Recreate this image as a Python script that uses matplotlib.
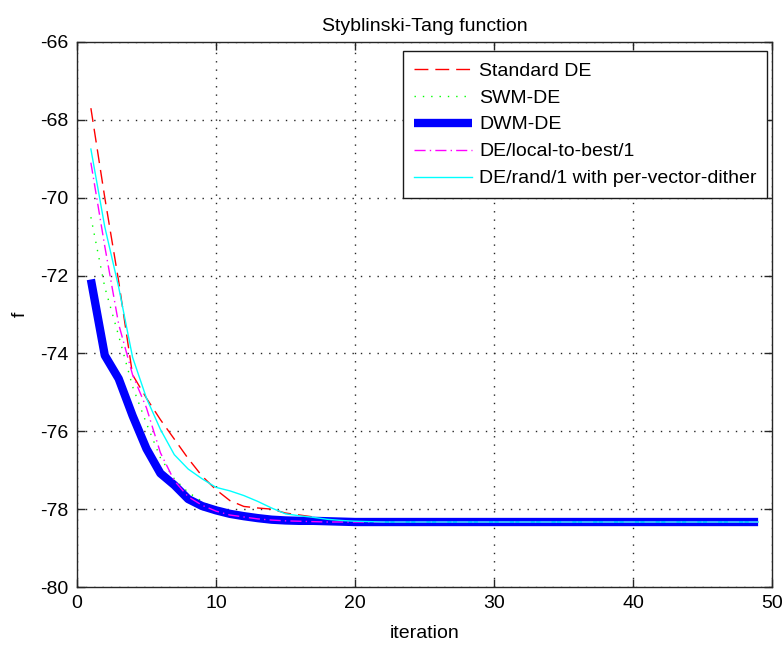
import matplotlib
matplotlib.use("Agg")
import matplotlib.pyplot as plt

plt.rcParams.update({
    "font.family": ["Liberation Sans", "DejaVu Sans"],
    "font.size": 14,
    "axes.unicode_minus": False,
    "figure.facecolor": "white",
    "axes.facecolor": "white",
})

# data
iterations = list(range(1, 50))

standard_de = [
    -67.7, -70.0, -72.15, -74.55, -75.15, -75.7, -76.2, -76.7, -77.15, -77.5,
    -77.78, -77.93, -77.97, -78.0, -78.1, -78.15, -78.2, -78.25, -78.28, -78.3,
    -78.31, -78.32, -78.33, -78.33, -78.33, -78.33, -78.33, -78.33, -78.33, -78.33,
    -78.33, -78.33, -78.33, -78.33, -78.33, -78.33, -78.33, -78.33, -78.33, -78.33,
    -78.33, -78.33, -78.33, -78.33, -78.33, -78.33, -78.33, -78.33, -78.33,
]
swm_de = [
    -70.5, -72.3, -73.55, -74.85, -75.8, -76.68, -77.22, -77.57, -77.8, -78.0,
    -78.1, -78.18, -78.23, -78.27, -78.3, -78.32, -78.33, -78.33, -78.33, -78.33,
    -78.33, -78.33, -78.33, -78.33, -78.33, -78.33, -78.33, -78.33, -78.33, -78.33,
    -78.33, -78.33, -78.33, -78.33, -78.33, -78.33, -78.33, -78.33, -78.33, -78.33,
    -78.33, -78.33, -78.33, -78.33, -78.33, -78.33, -78.33, -78.33, -78.33,
]
dwm_de = [
    -72.1, -74.05, -74.65, -75.6, -76.45, -77.08, -77.38, -77.74, -77.92, -78.03,
    -78.12, -78.18, -78.23, -78.27, -78.29, -78.3, -78.3, -78.31, -78.32, -78.33,
    -78.33, -78.33, -78.33, -78.33, -78.33, -78.33, -78.33, -78.33, -78.33, -78.33,
    -78.33, -78.33, -78.33, -78.33, -78.33, -78.33, -78.33, -78.33, -78.33, -78.33,
    -78.33, -78.33, -78.33, -78.33, -78.33, -78.33, -78.33, -78.33, -78.33,
]
local_to_best = [
    -69.1, -71.25, -73.25, -74.55, -75.4, -76.55, -77.27, -77.68, -77.9, -78.05,
    -78.15, -78.2, -78.25, -78.28, -78.3, -78.31, -78.32, -78.33, -78.33, -78.33,
    -78.33, -78.33, -78.33, -78.33, -78.33, -78.33, -78.33, -78.33, -78.33, -78.33,
    -78.33, -78.33, -78.33, -78.33, -78.33, -78.33, -78.33, -78.33, -78.33, -78.33,
    -78.33, -78.33, -78.33, -78.33, -78.33, -78.33, -78.33, -78.33, -78.33,
]
rand1_dither = [
    -68.75, -70.75, -72.3, -74.1, -75.15, -75.95, -76.6, -76.97, -77.22, -77.44,
    -77.53, -77.65, -77.8, -77.97, -78.12, -78.17, -78.21, -78.26, -78.29, -78.31,
    -78.32, -78.33, -78.33, -78.33, -78.33, -78.33, -78.33, -78.33, -78.33, -78.33,
    -78.33, -78.33, -78.33, -78.33, -78.33, -78.33, -78.33, -78.33, -78.33, -78.33,
    -78.33, -78.33, -78.33, -78.33, -78.33, -78.33, -78.33, -78.33, -78.33,
]

x_ticks = [0, 10, 20, 30, 40, 50]
y_ticks = [-80, -78, -76, -74, -72, -70, -68, -66]

fig = plt.figure(figsize=(7.84, 6.48), dpi=100)
ax = fig.add_axes([0.0982, 0.0941, 0.8865, 0.8411])

ax.plot(iterations, standard_de, color="#ff0000", linewidth=1.0,
        dashes=(10, 5), label="Standard DE")
ax.plot(iterations, swm_de, color="#00ff00", linewidth=1.0,
        dashes=(1, 5), label="SWM-DE")
ax.plot(iterations, dwm_de, color="#0000ff", linewidth=6.0,
        solid_capstyle="butt", label="DWM-DE")
ax.plot(iterations, local_to_best, color="#ff00ff", linewidth=1.0,
        dashes=(8, 3, 1, 3), label="DE/local-to-best/1")
ax.plot(iterations, rand1_dither, color="#00ffff", linewidth=1.0,
        label="DE/rand/1 with per-vector-dither")

ax.set_xlim(0, 50)
ax.set_ylim(-80, -66)
ax.set_xticks(x_ticks)
ax.set_yticks(y_ticks)

ax.grid(True, color="0.15", linewidth=1.0, linestyle=(0, (1, 5)))
ax.set_axisbelow(True)
for s in ax.spines.values():
    s.set_color("0.15")
    s.set_linewidth(1.0)
ax.tick_params(direction="in", length=6, width=1.0, top=True, right=True,
               colors="0.15", labelcolor="black", pad=6)

ax.set_title("Styblinski-Tang function", fontsize=14, pad=8)
ax.set_xlabel("iteration", labelpad=9)
ax.set_ylabel("f", labelpad=8)

leg = ax.legend(loc="upper right", bbox_to_anchor=(0.993, 0.983),
                borderaxespad=0, fancybox=False, framealpha=1,
                edgecolor="0.1", handlelength=3.0, handletextpad=0.35,
                fontsize=14, labelspacing=0.48, borderpad=0.55)
leg.get_frame().set_linewidth(1.0)

fig.savefig("out.png", dpi=100)
